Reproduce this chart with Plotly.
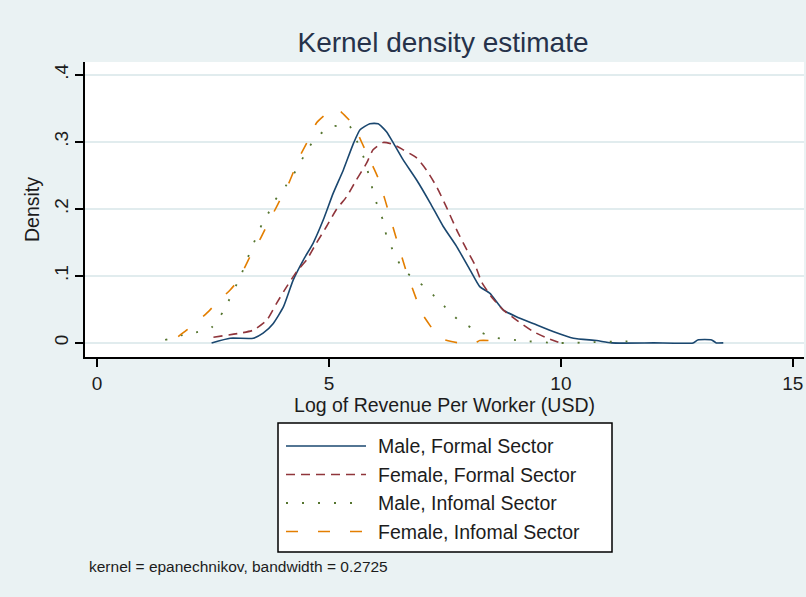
import plotly.graph_objects as go

# ---------------- data ----------------
male_formal_x = [2.47, 2.87, 3.37, 3.58, 3.80, 4.02, 4.23, 4.45, 4.66, 4.88, 5.09, 5.31, 5.53, 5.67,
                 5.88, 6.06, 6.24, 6.39, 6.60, 6.89, 7.18, 7.46, 7.75, 8.04, 8.25, 8.47, 8.76, 9.04,
                 9.40, 9.83, 10.27, 10.77, 11.09, 12.0, 12.85, 12.95, 13.25, 13.35, 13.5]
male_formal_y = [0.0, 0.007, 0.007, 0.0145, 0.029, 0.054, 0.094, 0.124, 0.149, 0.184, 0.223, 0.258,
                 0.298, 0.318, 0.327, 0.327, 0.315, 0.298, 0.273, 0.243, 0.209, 0.174, 0.144, 0.109,
                 0.084, 0.074, 0.049, 0.039, 0.029, 0.017, 0.007, 0.0035, 0.0, 0.0, 0.0, 0.0045,
                 0.0045, 0.0, 0.0]

female_formal_x = [2.51, 3.08, 3.37, 3.66, 3.87, 4.09, 4.30, 4.52, 4.73, 4.95, 5.16, 5.38, 5.59, 5.81,
                   5.95, 6.17, 6.39, 6.60, 6.89, 7.10, 7.32, 7.53, 7.75, 7.97, 8.15, 8.29, 8.50,
                   8.76, 9.08, 9.40, 9.66, 9.98]
female_formal_y = [0.0085, 0.0145, 0.019, 0.034, 0.059, 0.084, 0.106, 0.124, 0.149, 0.174, 0.199,
                   0.218, 0.243, 0.268, 0.288, 0.299, 0.296, 0.288, 0.276, 0.258, 0.233, 0.203,
                   0.169, 0.139, 0.116, 0.091, 0.069, 0.049, 0.032, 0.017, 0.0085, 0.0]

male_informal_x = [1.47, 2.0, 2.05, 2.47, 2.72, 3.12, 3.30, 3.55, 3.66, 3.84, 4.09, 4.25, 4.52, 4.68,
                   4.97, 5.34, 5.45, 5.59, 5.78, 5.88, 6.06, 6.16, 6.24, 6.44, 6.60, 6.82, 7.14,
                   7.28, 7.57, 7.79, 8.20, 8.54, 9.20, 9.87, 10.27, 10.59, 11.20, 11.74]
male_informal_y = [0.0045, 0.0145, 0.0145, 0.023, 0.047, 0.104, 0.136, 0.176, 0.189, 0.213, 0.236,
                   0.253, 0.286, 0.303, 0.320, 0.326, 0.323, 0.303, 0.271, 0.244, 0.201, 0.184,
                   0.160, 0.129, 0.109, 0.097, 0.079, 0.069, 0.049, 0.034, 0.018, 0.0085, 0.003,
                   0.0, 0.0, 0.001, 0.002, 0.003]

female_informal_x = [1.75, 1.93, 2.36, 2.61, 2.87, 3.05, 3.30, 3.51, 3.69, 3.87, 4.02, 4.12, 4.37,
                     4.52, 4.66, 4.73, 4.95, 5.16, 5.27, 5.53, 5.70, 5.95, 6.06, 6.21, 6.46, 6.67,
                     6.89, 6.96, 7.25, 7.39, 7.64, 7.80, 8.15, 8.25, 8.50, 8.64, 8.79]
female_informal_y = [0.0095, 0.019, 0.044, 0.062, 0.079, 0.094, 0.129, 0.154, 0.179, 0.203, 0.223,
                     0.236, 0.278, 0.298, 0.318, 0.328, 0.342, 0.349, 0.344, 0.325, 0.300, 0.263,
                     0.246, 0.213, 0.154, 0.106, 0.064, 0.049, 0.019, 0.007, 0.002, 0.0, 0.0,
                     0.0035, 0.0035, 0.0035, 0.0035]

series_names = ["Male, Formal Sector", "Female, Formal Sector",
                "Male, Informal Sector", "Female, Informal Sector"]
legend_labels = ["Male, Formal Sector", "Female, Formal Sector",
                 "Male, Infomal Sector", "Female, Infomal Sector"]

x_tick_vals = [0, 5, 10, 15]
x_tick_text = ["0", "5", "10", "15"]
y_tick_vals = [0, 0.1, 0.2, 0.3, 0.4]
y_tick_text = ["0", ".1", ".2", ".3", ".4"]

title_text = "Kernel density estimate"
x_title = "Log of Revenue Per Worker (USD)"
y_title = "Density"
note_text = "kernel = epanechnikov, bandwidth = 0.2725"

# ---------------- styles ----------------
colors = ["rgb(26,71,111)", "rgb(144,53,59)", "rgb(85,117,47)", "rgb(227,126,0)"]
dashes = ["solid", "9px,6px", "2px,14px", "12px,20px"]
widths = [1.6, 1.6, 1.8, 1.6]
bg = "#EAF2F3"
grid = "#E1ECEE"
font_family = "Liberation Sans, Arial, sans-serif"
text_color = "#1c1c1c"

W, H = 806, 597
L, R, T, B = 85, 2, 62, 240

xs = [male_formal_x, female_formal_x, male_informal_x, female_informal_x]
ys = [male_formal_y, female_formal_y, male_informal_y, female_informal_y]

fig = go.Figure()
for i in range(4):
    fig.add_trace(go.Scatter(
        x=xs[i], y=ys[i], mode="lines", name=series_names[i],
        line=dict(color=colors[i], width=widths[i], dash=dashes[i], shape="spline", smoothing=0.5),
        showlegend=False,
    ))

fig.update_layout(
    width=W, height=H,
    paper_bgcolor=bg, plot_bgcolor="white",
    margin=dict(l=L, r=R, t=T, b=B, pad=0),
    font=dict(family=font_family, color=text_color, size=18),
    title=dict(text=title_text, x=443 / W, xanchor="center",
               y=1 - 42 / H, yanchor="middle",
               font=dict(size=28, color="#26324a", family=font_family)),
    showlegend=False,
)

fig.update_xaxes(
    range=[-0.259, 15.24], tickvals=x_tick_vals, ticktext=x_tick_text,
    showgrid=False, zeroline=False,
    showline=True, linecolor="black", linewidth=1.5,
    ticks="outside", ticklen=8, tickwidth=1.5, tickcolor="black",
    tickfont=dict(size=19), ticklabelstandoff=0,
    title=dict(text=x_title, font=dict(size=19.5), standoff=0),
)
fig.update_yaxes(
    range=[-0.021, 0.419], tickvals=y_tick_vals, ticktext=y_tick_text,
    showgrid=True, gridcolor=grid, gridwidth=1.5, zeroline=False,
    showline=True, linecolor="black", linewidth=1.5,
    ticks="outside", ticklen=8, tickwidth=1.5, tickcolor="black",
    tickangle=-90, tickfont=dict(size=19), ticklabelstandoff=0,
    title=dict(text=y_title, font=dict(size=19.5), standoff=6),
)

# ---------------- legend (drawn box) ----------------
def px_x(p):
    return (p - L) / (W - L - R)

def px_y(p):
    return 1 - (p - T) / (H - T - B)

box_l, box_r, box_t, box_b = 278, 612, 423, 552
fig.add_shape(type="rect", xref="paper", yref="paper",
              x0=px_x(box_l), x1=px_x(box_r), y0=px_y(box_b), y1=px_y(box_t),
              line=dict(color="black", width=1.5), fillcolor="white", layer="above")
row_y = [446, 474.5, 503, 531.5]
for i in range(4):
    fig.add_shape(type="line", xref="paper", yref="paper",
                  x0=px_x(286), x1=px_x(366), y0=px_y(row_y[i]), y1=px_y(row_y[i]),
                  line=dict(color=colors[i], width=widths[i], dash=dashes[i]), layer="above")
    fig.add_annotation(xref="paper", yref="paper", x=px_x(376), y=px_y(row_y[i]),
                       text=legend_labels[i], showarrow=False, xanchor="left", yanchor="middle",
                       font=dict(size=19.5, color=text_color))

fig.add_annotation(xref="paper", yref="paper", x=px_x(87), y=px_y(566),
                   text=note_text, showarrow=False, xanchor="left", yanchor="middle",
                   font=dict(size=15.5, color=text_color))

fig.write_html(
    "out.html",
    config={"displayModeBar": False},
    post_script="document.body.style.margin='0';document.body.style.padding='0';",
)
